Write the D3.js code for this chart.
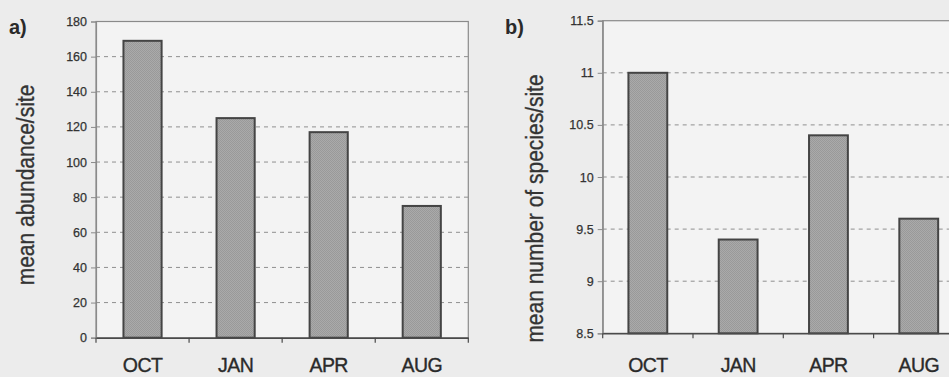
<!DOCTYPE html>
<html>
<head>
<meta charset="utf-8">
<script src="https://cdn.jsdelivr.net/npm/d3@7"></script>
<style>
  html, body { margin: 0; padding: 0; background: #ececec; }
  svg { display: block; font-family: "Liberation Sans", Arial, sans-serif; }
</style>
</head>
<body>
<svg id="chart" width="949" height="377"></svg>
<script>
// ---- data ----
const months = ["OCT", "JAN", "APR", "AUG"];
const abundance = [169, 125, 117, 75];
const species = [11.0, 9.4, 10.4, 9.6];
const abundanceTicks = [0, 20, 40, 60, 80, 100, 120, 140, 160, 180];
const speciesTicks = [8.5, 9, 9.5, 10, 10.5, 11, 11.5];

const svg = d3.select("#chart");

// dotted texture for bars
const defs = svg.append("defs");
const pat = defs.append("pattern").attr("id", "dots")
  .attr("width", 2).attr("height", 2).attr("patternUnits", "userSpaceOnUse");
pat.append("rect").attr("width", 2).attr("height", 2).attr("fill", "#aaaaaa");
pat.append("rect").attr("width", 1).attr("height", 1).attr("fill", "#999999");
pat.append("rect").attr("x", 1).attr("y", 1).attr("width", 1).attr("height", 1).attr("fill", "#999999");

function panel(cfg) {
  const g = svg.append("g");
  const x = d3.scaleBand().domain(months).range([cfg.left, cfg.right])
    .paddingInner(cfg.pad).paddingOuter(cfg.pad / 2);
  const y = d3.scaleLinear().domain(cfg.domain).range([cfg.bottom, cfg.top]);

  // plot area background
  g.append("rect").attr("x", cfg.left).attr("y", cfg.top)
    .attr("width", cfg.right - cfg.left).attr("height", cfg.bottom - cfg.top)
    .attr("fill", "#f3f3f3").attr("stroke", "#8a8a8a").attr("stroke-width", 1.2);

  // gridlines
  g.append("g").selectAll("line").data(cfg.ticks.slice(1, -1)).join("line")
    .attr("x1", cfg.left).attr("x2", cfg.right)
    .attr("y1", d => y(d)).attr("y2", d => y(d))
    .attr("stroke", "#8f8f8f").attr("stroke-width", 1)
    .attr("stroke-dasharray", "4,4");

  // y axis
  const ya = g.append("g").attr("transform", `translate(${cfg.left},0)`)
    .call(d3.axisLeft(y).tickValues(cfg.ticks).tickSize(5).tickPadding(4)
      .tickFormat(d3.format(cfg.fmt)));
  ya.select(".domain").attr("stroke", "#8a8a8a").attr("stroke-width", 1.2);
  ya.selectAll(".tick line").attr("stroke", "#8a8a8a");
  ya.selectAll(".tick text").attr("fill", "#333")
    .attr("stroke", "#333").attr("stroke-width", 0.25)
    .style("font-size", "12.5px").style("font-family", "Liberation Sans, Arial, sans-serif");

  // bars
  g.append("g").selectAll("rect").data(cfg.values).join("rect")
    .attr("x", (d, i) => x(months[i]))
    .attr("y", d => y(d))
    .attr("width", x.bandwidth())
    .attr("height", d => y(cfg.domain[0]) - y(d))
    .attr("fill", "url(#dots)")
    .attr("stroke", "#444").attr("stroke-width", 2);

  // x axis
  const xa = g.append("g").attr("transform", `translate(0,${cfg.bottom})`)
    .call(d3.axisBottom(x).tickSize(0).tickPadding(0).tickFormat(() => ""));
  xa.select(".domain").attr("stroke", "#4a4a4a").attr("stroke-width", 1.6);
  const bounds = d3.range(months.length + 1).map(i => cfg.left + i * x.step());
  g.append("g").selectAll("line").data(bounds).join("line")
    .attr("x1", d => d).attr("x2", d => d)
    .attr("y1", cfg.bottom).attr("y2", cfg.bottom + 5)
    .attr("stroke", "#4a4a4a").attr("stroke-width", 1.2);

  // category labels
  g.append("g").selectAll("text").data(months).join("text")
    .attr("x", d => x(d) + x.bandwidth() / 2)
    .attr("y", cfg.labelY)
    .attr("text-anchor", "middle")
    .attr("fill", "#2a2a2a").attr("stroke", "#2a2a2a").attr("stroke-width", 0.35)
    .style("font-size", "19.5px")
    .style("letter-spacing", "-0.6px")
    .text(d => d);

  // y title
  g.append("text")
    .attr("transform", `translate(${cfg.titleX},${cfg.titleY}) rotate(-90) scale(1,1.15)`)
    .attr("text-anchor", "middle")
    .attr("fill", "#333").attr("stroke", "#333").attr("stroke-width", 0.3)
    .style("font-size", "21px")
    .text(cfg.title);

  // panel letter
  g.append("text").attr("x", cfg.letterX).attr("y", cfg.letterY)
    .attr("fill", "#2a2a2a").style("font-size", "20px").style("font-weight", "bold")
    .text(cfg.letter);
}

panel({
  left: 96, right: 468.3, top: 21.5, bottom: 337.7,
  domain: [0, 180], ticks: abundanceTicks, values: abundance, fmt: "d",
  pad: 0.59, labelY: 372,
  title: "mean abundance/site", titleX: 34, titleY: 185,
  letter: "a)", letterX: 9, letterY: 34
});

panel({
  left: 602.7, right: 963.9, top: 20.7, bottom: 333.3,
  domain: [8.5, 11.5], ticks: speciesTicks, values: species, fmt: "",
  pad: 0.57, labelY: 372,
  title: "mean number of species/site", titleX: 542.5, titleY: 208.5,
  letter: "b)", letterX: 505, letterY: 34
});
</script>
</body>
</html>
